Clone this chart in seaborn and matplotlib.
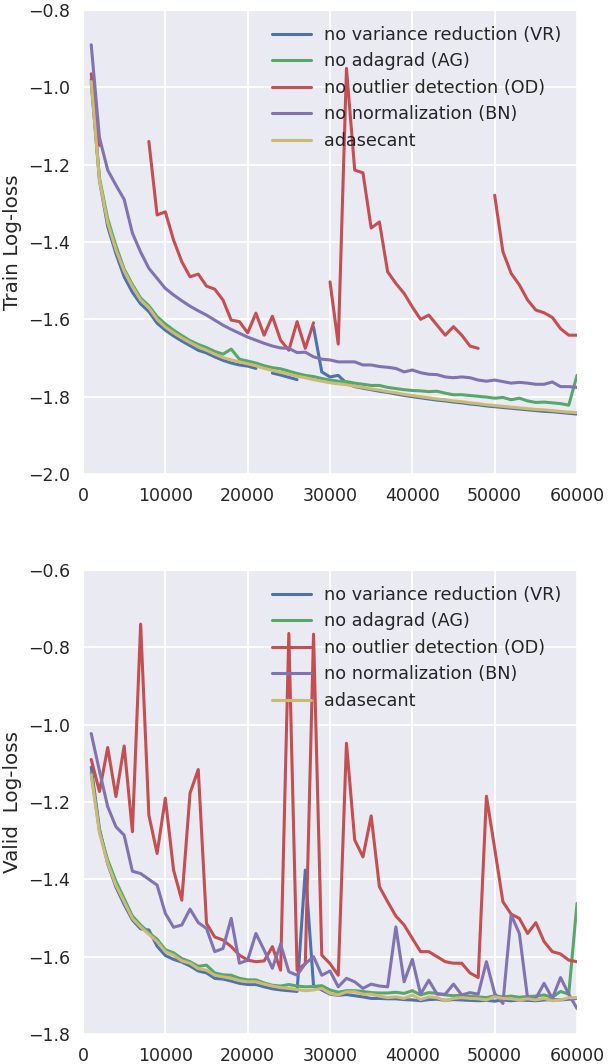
import numpy as np
import pandas as pd
import matplotlib
matplotlib.use("Agg")
import matplotlib.pyplot as plt
import seaborn as sns

nan = np.nan

iterations = list(range(1000, 60001, 1000))

methods = ["no variance reduction (VR)", "no adagrad (AG)", "no outlier detection (OD)",
           "no normalization (BN)", "adasecant"]
colors = ["#4C72B0", "#55A868", "#C44E52", "#8172B2", "#CCB974"]

train_vr = [-0.98, -1.24, -1.36, -1.43, -1.49, -1.53, -1.56, -1.58, -1.61, -1.628,
            -1.643, -1.656, -1.668, -1.68, -1.687, -1.697, -1.706, -1.713, -1.718, -1.721,
            -1.727, nan, -1.739, -1.744, -1.75, -1.756, nan, -1.62, -1.736, -1.749,
            -1.745, -1.765, -1.774, -1.778, -1.782, -1.786, -1.789, -1.793, -1.797, -1.80,
            -1.803, -1.806, -1.809, -1.811, -1.814, -1.816, -1.819, -1.821, -1.824, -1.826,
            -1.828, -1.83, -1.832, -1.834, -1.836, -1.838, -1.839, -1.841, -1.843, -1.845]
train_ag = [-0.99, -1.235, -1.34, -1.41, -1.47, -1.51, -1.545, -1.565, -1.593, -1.612,
            -1.628, -1.642, -1.655, -1.665, -1.673, -1.683, -1.69, -1.677, -1.703, -1.708,
            -1.713, -1.72, -1.725, -1.728, -1.734, -1.74, -1.745, -1.748, -1.753, -1.757,
            -1.76, -1.761, -1.765, -1.768, -1.771, -1.771, -1.776, -1.779, -1.782, -1.784,
            -1.785, -1.787, -1.786, -1.791, -1.795, -1.795, -1.797, -1.799, -1.801, -1.804,
            -1.802, -1.808, -1.804, -1.811, -1.815, -1.814, -1.816, -1.818, -1.822, -1.745]
train_od = [-0.965, -1.15, nan, nan, nan, nan, nan, -1.14, -1.33, -1.322,
            -1.395, -1.451, -1.49, -1.483, -1.514, -1.522, -1.55, -1.602, -1.606, -1.635,
            -1.584, -1.641, -1.592, -1.654, -1.68, -1.606, -1.675, -1.609, nan, -1.503,
            -1.664, -0.951, -1.214, -1.221, -1.364, -1.348, -1.477, -1.507, -1.533, -1.568,
            -1.60, -1.589, -1.615, -1.641, -1.619, -1.641, -1.669, -1.675, nan, -1.279,
            -1.425, -1.481, -1.511, -1.55, -1.576, -1.583, -1.595, -1.624, -1.641, -1.641]
train_bn = [-0.89, -1.13, -1.214, -1.253, -1.29, -1.377, -1.426, -1.468, -1.494, -1.52,
            -1.537, -1.552, -1.566, -1.578, -1.589, -1.602, -1.615, -1.626, -1.636, -1.646,
            -1.654, -1.662, -1.669, -1.674, -1.675, -1.686, -1.685, -1.697, -1.703, -1.705,
            -1.71, -1.71, -1.71, -1.718, -1.718, -1.722, -1.724, -1.727, -1.736, -1.731,
            -1.738, -1.742, -1.743, -1.749, -1.751, -1.749, -1.751, -1.757, -1.76, -1.757,
            -1.761, -1.765, -1.763, -1.765, -1.768, -1.768, -1.762, -1.774, -1.774, -1.776]
train_ada = [-0.985, -1.24, -1.35, -1.42, -1.475, -1.515, -1.55, -1.57, -1.60, -1.62,
             -1.635, -1.648, -1.66, -1.671, -1.68, -1.69, -1.699, -1.705, -1.71, -1.715,
             -1.72, -1.727, -1.732, -1.737, -1.742, -1.747, -1.751, -1.756, -1.76, -1.764,
             -1.767, -1.769, -1.773, -1.776, -1.78, -1.783, -1.787, -1.79, -1.794, -1.797,
             -1.80, -1.803, -1.806, -1.808, -1.811, -1.813, -1.816, -1.818, -1.821, -1.823,
             -1.825, -1.827, -1.829, -1.831, -1.833, -1.834, -1.836, -1.838, -1.84, -1.841]

valid_vr = [-1.11, -1.27, -1.36, -1.42, -1.465, -1.505, -1.528, -1.531, -1.573, -1.597,
            -1.607, -1.614, -1.624, -1.637, -1.642, -1.656, -1.658, -1.663, -1.669, -1.672,
            -1.672, -1.678, -1.683, -1.686, -1.688, -1.69, -1.376, -1.675, -1.686, -1.697,
            -1.70, -1.698, -1.701, -1.704, -1.708, -1.708, -1.709, -1.709, -1.711, -1.712,
            -1.714, -1.711, -1.71, -1.713, -1.711, -1.712, -1.713, -1.714, -1.713, -1.715,
            -1.712, -1.714, -1.712, -1.713, -1.714, -1.712, -1.711, -1.712, -1.71, -1.708]
valid_ag = [-1.125, -1.275, -1.35, -1.405, -1.45, -1.495, -1.518, -1.538, -1.555, -1.582,
            -1.59, -1.605, -1.613, -1.625, -1.622, -1.642, -1.647, -1.648, -1.656, -1.66,
            -1.66, -1.668, -1.674, -1.676, -1.672, -1.676, -1.678, -1.677, -1.675, -1.686,
            -1.692, -1.688, -1.688, -1.69, -1.693, -1.694, -1.694, -1.692, -1.695, -1.688,
            -1.699, -1.693, -1.695, -1.699, -1.701, -1.700, -1.703, -1.704, -1.706, -1.701,
            -1.704, -1.702, -1.705, -1.703, -1.702, -1.699, -1.705, -1.69, -1.697, -1.462]
valid_od = [-1.09, -1.173, -1.059, -1.186, -1.055, -1.277, -0.74, -1.234, -1.333, -1.19,
            -1.376, -1.454, -1.177, -1.116, -1.514, -1.549, -1.557, -1.574, -1.596, -1.609,
            -1.613, -1.611, -1.574, -1.635, -0.764, -1.635, -1.618, -0.766, -1.596, -1.618,
            -1.648, -1.048, -1.298, -1.342, -1.236, -1.419, -1.458, -1.495, -1.518, -1.553,
            -1.587, -1.587, -1.6, -1.613, -1.617, -1.617, -1.642, -1.654, -1.185, -1.32,
            -1.458, -1.49, -1.501, -1.54, -1.512, -1.561, -1.587, -1.593, -1.609, -1.613]
valid_bn = [-1.023, -1.12, -1.212, -1.264, -1.286, -1.379, -1.385, -1.4, -1.415, -1.488,
            -1.524, -1.518, -1.477, -1.512, -1.527, -1.587, -1.579, -1.501, -1.617, -1.609,
            -1.54, -1.583, -1.63, -1.568, -1.639, -1.648, -1.618, -1.6, -1.648, -1.637,
            -1.678, -1.656, -1.665, -1.682, -1.671, -1.676, -1.678, -1.523, -1.665, -1.607,
            -1.697, -1.661, -1.697, -1.697, -1.671, -1.699, -1.693, -1.697, -1.613, -1.695,
            -1.721, -1.492, -1.54, -1.708, -1.708, -1.669, -1.708, -1.654, -1.697, -1.734]
valid_ada = [-1.13, -1.28, -1.359, -1.415, -1.458, -1.501, -1.523, -1.542, -1.561, -1.587,
             -1.596, -1.611, -1.617, -1.631, -1.635, -1.648, -1.652, -1.656, -1.662, -1.665,
             -1.665, -1.671, -1.676, -1.68, -1.682, -1.685, -1.688, -1.686, -1.682, -1.695,
             -1.699, -1.691, -1.691, -1.697, -1.697, -1.702, -1.706, -1.704, -1.708, -1.699,
             -1.711, -1.704, -1.706, -1.714, -1.708, -1.706, -1.708, -1.709, -1.712, -1.704,
             -1.708, -1.709, -1.712, -1.709, -1.712, -1.708, -1.714, -1.712, -1.706, -1.706]

xticks = [0, 10000, 20000, 30000, 40000, 50000, 60000]
train_yticks = [-2.0, -1.8, -1.6, -1.4, -1.2, -1.0, -0.8]
valid_yticks = [-1.8, -1.6, -1.4, -1.2, -1.0, -0.8, -0.6]


def long_frame(series):
    rows = []
    for name, vals in zip(methods, series):
        seg = 0
        gap = False
        for it, v in zip(iterations, vals):
            if np.isnan(v):
                gap = True
                continue
            if gap:
                seg += 1
                gap = False
            rows.append((name, f"{name}#{seg}", it, v))
    return pd.DataFrame(rows, columns=["method", "seg", "iteration", "loss"])


sns.set_style("darkgrid")
plt.rcParams["font.family"] = ["DejaVu Sans"]
plt.rcParams["axes.unicode_minus"] = True

fig = plt.figure(figsize=(6.08, 10.64), dpi=100)
ax1 = fig.add_axes([83 / 608, 1 - 474 / 1064, 494 / 608, 464 / 1064])
ax2 = fig.add_axes([83 / 608, 1 - 1034 / 1064, 494 / 608, 464 / 1064])

panels = [
    (ax1, [train_vr, train_ag, train_od, train_bn, train_ada], "Train Log-loss", train_yticks),
    (ax2, [valid_vr, valid_ag, valid_od, valid_bn, valid_ada], "Valid  Log-loss", valid_yticks),
]
palette = dict(zip(methods, colors))
for ax, series, ylabel, yticks in panels:
    df = long_frame(series)
    sns.lineplot(data=df, x="iteration", y="loss", hue="method", units="seg",
                 estimator=None, hue_order=methods, palette=palette,
                 linewidth=2.2, ax=ax)
    leg = ax.get_legend()
    handles = list(leg.legend_handles)
    labels = [t.get_text() for t in leg.get_texts()]
    leg.remove()
    for h in handles:
        h.set_linewidth(2.2)
    ax.legend(handles, labels, loc="upper right", frameon=False, fontsize=12.7,
              handlelength=2.2, handletextpad=0.75, borderaxespad=0.5, labelspacing=0.48)
    ax.set_xlim(0, 60000)
    ax.set_ylim(yticks[0], yticks[-1])
    ax.set_xticks(xticks)
    ax.set_xticklabels([str(t) for t in xticks])
    ax.set_yticks(yticks)
    ax.set_yticklabels([f"{t:.1f}".replace("-", "\u2212") for t in yticks])
    ax.tick_params(labelsize=12.5, colors=".15", pad=6)
    ax.set_xlabel("")
    ax.set_ylabel(ylabel, fontsize=14.3, color=".15", labelpad=4)
    ax.grid(True, color="white", linewidth=1.3)

fig.savefig("out.png", dpi=100)
